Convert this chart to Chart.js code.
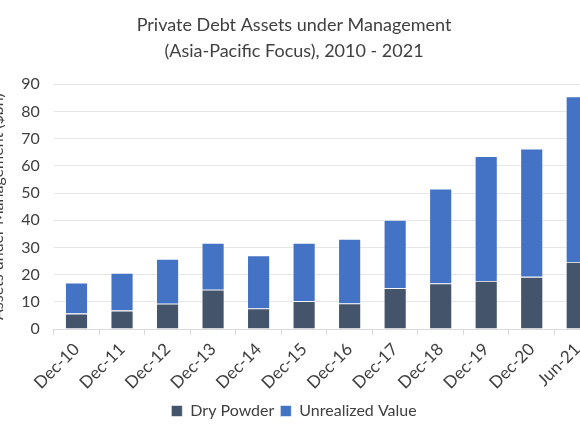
<!DOCTYPE html>
<html>
<head>
<meta charset="utf-8">
<script src="https://cdn.jsdelivr.net/npm/chart.js@4"></script>
<style>
  html, body { margin: 0; padding: 0; background: #fff; overflow: hidden; }
  #wrap { position: absolute; left: -12px; top: 0; width: 612px; height: 435px; }
</style>
</head>
<body>
<div id="wrap"><canvas id="chart"></canvas></div>
<script>
// periods along the x axis
const categories = ['Dec-10', 'Dec-11', 'Dec-12', 'Dec-13', 'Dec-14', 'Dec-15',
                    'Dec-16', 'Dec-17', 'Dec-18', 'Dec-19', 'Dec-20', 'Jun-21'];
// $bn
const dryPowder = [5.7, 6.8, 9.3, 14.5, 7.6, 10.3, 9.4, 15.0, 16.8, 17.7, 19.2, 24.7];
const unrealizedValue = [11.4, 13.8, 16.5, 17.2, 19.5, 21.4, 23.7, 25.1, 34.8, 45.8, 47.1, 60.8];
const yTicks = [0, 10, 20, 30, 40, 50, 60, 70, 80, 90];

const FONT = 'Lato, "Noto Sans", sans-serif';

const chart = new Chart(document.getElementById('chart'), {
  type: 'bar',
  data: {
    labels: categories,
    datasets: [
      {
        label: 'Dry Powder',
        data: dryPowder,
        backgroundColor: '#44546A',
        borderColor: 'rgba(255,255,255,0.7)',
        borderWidth: 0.8
      },
      {
        label: 'Unrealized Value',
        data: unrealizedValue,
        backgroundColor: '#4472C4',
        borderColor: 'rgba(255,255,255,0.7)',
        borderWidth: 0.8
      }
    ]
  },
  options: {
    responsive: true,
    maintainAspectRatio: false,
    animation: false,
    datasets: { bar: { categoryPercentage: 0.5, barPercentage: 1 } },
    layout: { padding: { top: 8, right: 0, bottom: 6, left: 0 } },
    plugins: {
      title: {
        display: true,
        text: ['Private Debt Assets under Management', '(Asia-Pacific Focus), 2010 - 2021'],
        color: '#404040',
        font: { family: FONT, size: 18, weight: 'normal', lineHeight: 1.45 },
        padding: { top: 4, bottom: 20 }
      },
      legend: {
        position: 'bottom',
        labels: {
          color: '#404040',
          font: { family: FONT, size: 16 },
          boxWidth: 11,
          boxHeight: 11,
          padding: 6
        }
      },
      tooltip: { enabled: false }
    },
    scales: {
      x: {
        stacked: true,
        grid: { display: true, drawOnChartArea: false, tickLength: 6, color: '#d9d9d9' },
        border: { color: '#d9d9d9' },
        ticks: {
          color: '#404040',
          font: { family: FONT, size: 17 },
          minRotation: 45,
          maxRotation: 45,
          padding: 4
        }
      },
      y: {
        stacked: true,
        min: 0,
        max: 90,
        afterBuildTicks: axis => { axis.ticks = yTicks.map(v => ({ value: v })); },
        grid: { color: '#e6e6e6', drawTicks: false },
        border: { display: false },
        ticks: {
          color: '#404040',
          font: { family: FONT, size: 16 },
          padding: 14
        },
        title: {
          display: true,
          text: 'Assets under Management ($bn)',
          color: '#404040',
          font: { family: FONT, size: 16 },
          padding: { top: 0, bottom: 0 }
        }
      }
    }
  }
});
</script>
</body>
</html>
